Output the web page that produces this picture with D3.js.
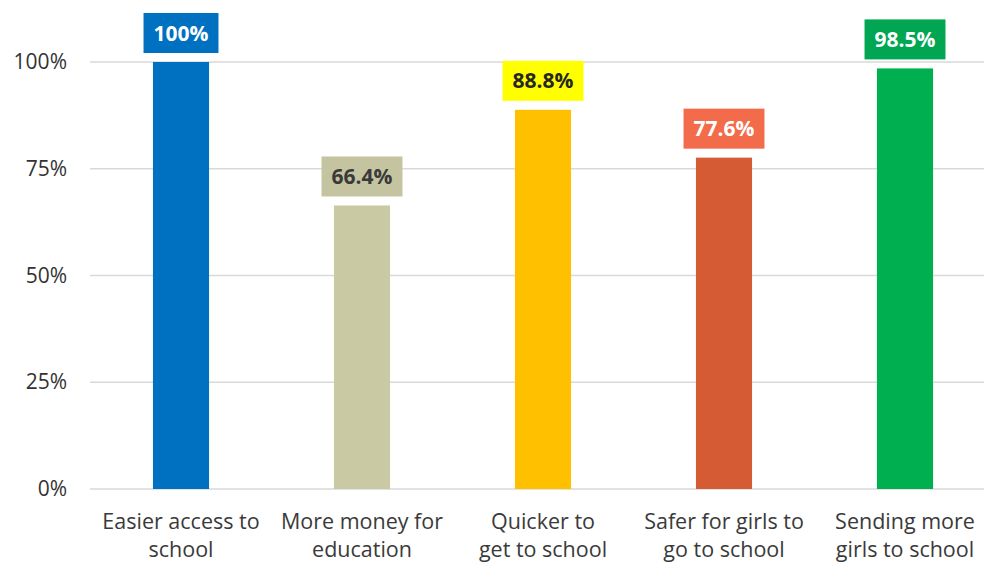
<!DOCTYPE html>
<meta charset="utf-8">
<style>
body { margin: 0; background: #fff; }
.grid line { stroke: #d9d9d9; stroke-width: 1.5px; }
.tick text { font-family: "Open Sans", sans-serif; font-size: 21px; fill: #333; }
.cat { font-family: "Open Sans", sans-serif; font-size: 21.5px; fill: #3a3a3a; }
.val { font-family: "Open Sans", sans-serif; font-size: 21px; font-weight: bold; }
</style>
<svg width="984" height="563"></svg>
<script src="https://cdn.jsdelivr.net/npm/d3@7/dist/d3.min.js"></script>
<script>

var categories = [
  ["Easier access to", "school"],
  ["More money for", "education"],
  ["Quicker to", "get to school"],
  ["Safer for girls to", "go to school"],
  ["Sending more", "girls to school"]
];
var values = [100, 66.4, 88.8, 77.6, 98.5];
var valueLabels = ["100%", "66.4%", "88.8%", "77.6%", "98.5%"];
var barColors = ["#0070c0", "#c9c9a3", "#ffc000", "#d55b35", "#00b050"];
var boxColors = ["#0070c0", "#c4c4a0", "#ffff00", "#f26b4a", "#00a651"];
var textColors = ["#fff", "#3a3a3a", "#262626", "#fff", "#fff"];
var yTicks = [0, 25, 50, 75, 100];

var svg = d3.select("svg");

var x = d3.scaleBand()
    .domain(d3.range(values.length))
    .range([90.5, 995.5])
    .paddingInner(0.69)
    .paddingOuter(0.345);

var y = d3.scaleLinear()
    .domain([0, 100])
    .range([489, 62]);

// gridlines
svg.append("g")
    .attr("class", "grid")
  .selectAll("line")
    .data(yTicks)
    .enter().append("line")
    .attr("x1", 90)
    .attr("x2", 984)
    .attr("y1", function(d) { return y(d); })
    .attr("y2", function(d) { return y(d); });

// y axis labels
var yAxis = d3.axisLeft(y)
    .tickValues(yTicks)
    .tickSize(0)
    .tickPadding(0)
    .tickFormat(function(d) { return d + "%"; });

svg.append("g")
    .attr("transform", "translate(67,0)")
    .call(yAxis)
    .call(function(g) { g.select(".domain").remove(); });

// bars
svg.append("g")
  .selectAll("rect")
    .data(values)
    .enter().append("rect")
    .attr("x", function(d, i) { return x(i); })
    .attr("width", x.bandwidth())
    .attr("y", function(d) { return y(d); })
    .attr("height", function(d) { return y(0) - y(d); })
    .attr("fill", function(d, i) { return barColors[i]; });

// value labels with boxes
var lab = svg.append("g")
  .selectAll("g")
    .data(values)
    .enter().append("g")
    .attr("transform", function(d, i) {
      return "translate(" + (x(i) + x.bandwidth() / 2) + "," + (y(d) - 29) + ")";
    });

lab.append("text")
    .attr("class", "val")
    .attr("text-anchor", "middle")
    .attr("dy", "0.36em")
    .attr("fill", function(d, i) { return textColors[i]; })
    .text(function(d, i) { return valueLabels[i]; })
    .each(function(d, i) {
      var w = this.getComputedTextLength() + 20;
      d3.select(this.parentNode).insert("rect", "text")
          .attr("x", -w / 2)
          .attr("y", -20)
          .attr("width", w)
          .attr("height", 40)
          .attr("fill", boxColors[i]);
    });

// category labels
var cat = svg.append("g")
  .selectAll("text")
    .data(categories)
    .enter().append("text")
    .attr("class", "cat")
    .attr("text-anchor", "middle")
    .attr("x", function(d, i) { return x(i) + x.bandwidth() / 2; });

cat.append("tspan")
    .attr("x", function(d, i) { return x(i) + x.bandwidth() / 2; })
    .attr("y", 529)
    .text(function(d) { return d[0]; });
cat.append("tspan")
    .attr("x", function(d, i) { return x(i) + x.bandwidth() / 2; })
    .attr("y", 557)
    .text(function(d) { return d[1]; });

</script>
